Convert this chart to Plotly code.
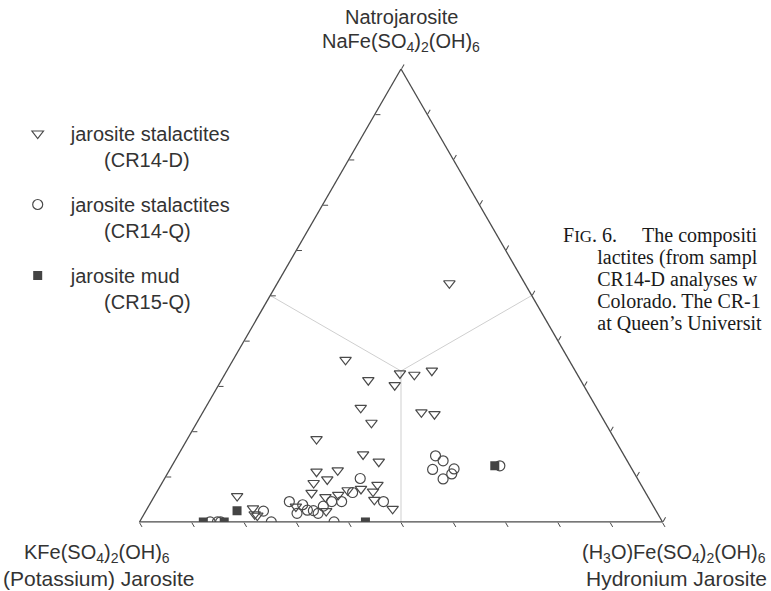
import plotly.graph_objects as go

W, H = 771, 591

# ---- data (end-member percentages: Na = natrojarosite, K = jarosite, H3O = hydronium jarosite)
cr14d_na = [52.7, 35.8, 32.8, 32.5, 33.4, 31.3, 30.2, 25.2, 21.9, 24.2, 23.8, 18.3, 14.9, 13.3,
            11.1, 11.4, 9.4, 8.6, 6.4, 5.5, 6.0, 7.0, 7.3, 8.2, 6.7, 4.9, 2.9, 5.7, 3.0, 1.7,
            1.4, 3.4, 2.4]
cr14d_k = [14.4, 42.7, 33.8, 31.2, 27.4, 40.6, 36.1, 45.1, 44.7, 34.0, 31.7, 57.0, 49.8, 47.6,
           60.6, 56.4, 59.4, 62.4, 63.9, 61.7, 59.0, 56.7, 54.0, 50.4, 52.0, 52.7, 50.2, 78.4,
           76.8, 77.2, 76.7, 68.4, 63.1]
cr14d_h3o = [32.9, 21.5, 33.4, 36.3, 39.2, 28.1, 33.7, 29.7, 33.4, 41.8, 44.5, 24.7, 35.3, 39.1,
             28.3, 32.2, 31.2, 29.0, 29.7, 32.8, 35.0, 36.3, 38.7, 41.4, 41.3, 42.5, 47.0, 15.8,
             20.2, 21.2, 21.8, 28.2, 34.5]

cr14q_na = [9.6, 6.5, 4.5, 4.5, 4.5, 4.5, 3.8, 1.9, 2.6, 2.5, 1.9, 3.5, 2.4, 0.0, 0.0, 0.0,
            0.0, 0.0, 14.6, 13.5, 11.6, 11.7, 10.6, 9.5, 12.4]
cr14q_k = [53.0, 56.0, 59.1, 61.0, 51.1, 69.1, 66.9, 69.0, 66.6, 65.5, 64.9, 63.1, 75.1, 74.8,
           62.8, 86.5, 85.1, 84.5, 36.1, 35.2, 38.2, 34.0, 35.0, 37.2, 24.9]
cr14q_h3o = [37.4, 37.5, 36.4, 34.5, 44.4, 26.4, 29.3, 29.2, 30.8, 32.0, 33.2, 33.4, 22.5, 25.2,
             37.2, 13.5, 14.9, 15.5, 49.3, 51.3, 50.3, 54.3, 54.4, 53.3, 62.7]

cr15q_na = [0.0, 0.0, 2.5, 0.0, 12.4]
cr15q_k = [87.8, 83.8, 80.1, 56.8, 25.9]
cr15q_h3o = [12.2, 16.2, 17.4, 43.2, 61.8]

# field boundaries: edge midpoints joined through the centroid
bound_na = [50, 100 / 3, 50, None, 100 / 3, 0]
bound_k = [50, 100 / 3, 0, None, 100 / 3, 50]
bound_h3o = [0, 100 / 3, 50, None, 100 / 3, 50]

NB = "\u00a0"
series_names = ["jarosite stalactites<br>" + NB * 6 + "(CR14-D)",
                "jarosite stalactites<br>" + NB * 6 + "(CR14-Q)",
                "jarosite mud<br>" + NB * 6 + "(CR15-Q)"]

EDGE = "#4a4a4a"
fig = go.Figure()
fig.add_trace(go.Scatterternary(a=bound_na, b=bound_k, c=bound_h3o, mode="lines",
                                line=dict(color="#cfcfcf", width=1), showlegend=False,
                                hoverinfo="skip"))
fig.add_trace(go.Scatterternary(a=cr14d_na, b=cr14d_k, c=cr14d_h3o, mode="markers",
                                name=series_names[0], legendgroup="g1",
                                marker=dict(symbol="triangle-down-open", size=10, color=EDGE,
                                            line=dict(width=1.2, color=EDGE))))
fig.add_trace(go.Scatterternary(a=cr14q_na, b=cr14q_k, c=cr14q_h3o, mode="markers",
                                name=series_names[1], legendgroup="g2",
                                marker=dict(symbol="circle-open", size=10, color=EDGE,
                                            line=dict(width=1.2, color=EDGE))))
fig.add_trace(go.Scatterternary(a=cr15q_na, b=cr15q_k, c=cr15q_h3o, mode="markers",
                                name=series_names[2], legendgroup="g3",
                                marker=dict(symbol="square", size=9, color="#444444",
                                            line=dict(width=0))))

base_axis = dict(showgrid=False, showticklabels=False, ticklen=5, dtick=10,
                 tickcolor=EDGE, linecolor=EDGE, linewidth=1.3, min=0, title=dict(text=""))

fig.update_layout(
    width=W, height=H, margin=dict(l=0, r=0, t=0, b=0),
    paper_bgcolor="white", plot_bgcolor="white",
    font=dict(family="Liberation Sans, Arial, sans-serif", color="#333333", size=20),
    ternary=dict(sum=100, bgcolor="white",
                 domain=dict(x=[139.5 / W, 662.5 / W], y=[(H - 522) / H, (H - 69) / H]),
                 aaxis=dict(base_axis, ticks="inside"),
                 baxis=dict(base_axis, ticks="outside"),
                 caxis=dict(base_axis, ticks="outside")),
    legend=dict(x=4.7 / W, y=1 - 114 / H, xanchor="left", yanchor="top",
                bgcolor="rgba(0,0,0,0)", itemwidth=56, traceorder="grouped",
                tracegroupgap=16, valign="top",
                font=dict(family="Liberation Sans, Arial, sans-serif", size=20, color="#333333")),
)

def px(x, y):
    return x / W, 1 - y / H

top_font = dict(family="Liberation Sans, Arial, sans-serif", size=20, color="#333333")
formula_font = dict(family="Liberation Sans, Arial, sans-serif", size=20, color="#333333")
name_font = dict(family="Liberation Sans, Arial, sans-serif", size=21, color="#333333")
labels = [
    ("Natrojarosite", 401, 17, top_font),
    ("NaFe(SO<sub>4</sub>)<sub>2</sub>(OH)<sub>6</sub>", 401, 43, top_font),
    ("KFe(SO<sub>4</sub>)<sub>2</sub>(OH)<sub>6</sub>", 97, 553, formula_font),
    ("(Potassium) Jarosite", 99, 578, name_font),
    ("(H<sub>3</sub>O)Fe(SO<sub>4</sub>)<sub>2</sub>(OH)<sub>6</sub>", 674, 553, formula_font),
    ("Hydronium Jarosite", 676, 578, name_font),
]
for txt, x, y, f in labels:
    xx, yy = px(x, y)
    fig.add_annotation(text=txt, x=xx, y=yy, xref="paper", yref="paper", showarrow=False,
                       xanchor="center", yanchor="middle", font=f)

# figure caption (cut off by the right edge, as in the source page)
BIG = "<span style='font-size:20px'>"
caption_lines = [
    BIG + "F</span>IG" + BIG + ". 6." + NB * 5 + "The compositi</span>",
    NB + BIG + NB * 6 + "lactites (from sampl</span>",
    NB + BIG + NB * 6 + "CR14-D analyses w</span>",
    NB + BIG + NB * 6 + "Colorado. The CR-1</span>",
    NB + BIG + NB * 6 + "at Queen\u2019s Universit</span>",
]
cx, cy = px(561, 279)
fig.add_annotation(text="<br>".join(caption_lines), x=cx, y=cy, xref="paper", yref="paper",
                   showarrow=False, xanchor="left", yanchor="middle", align="left",
                   font=dict(family="Liberation Serif, Times New Roman, serif", size=17,
                             color="#1a1a1a"))

fig.write_html("out.html", config={"displayModeBar": False},
               post_script="document.body.style.margin='0px';")
